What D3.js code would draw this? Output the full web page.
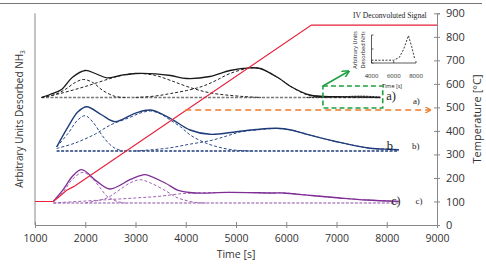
<!DOCTYPE html>
<html lang="en">
<head>
<meta charset="UTF-8">
<title>NH3 TPD deconvolution</title>
<style>
  body { margin: 0; background: #fff; }
  svg { display: block; font-family: "Open Sans", "DejaVu Sans", sans-serif; }
  .serif { font-family: "Liberation Serif", "DejaVu Serif", serif; }
</style>
</head>
<body>
<script src="https://d3js.org/d3.v7.min.js"></script>
<script>
// ---- data: [time s, signal above own baseline] ----
const timeTicks = [1000, 2000, 3000, 4000, 5000, 6000, 7000, 8000, 9000]
const tempTicks = [0, 100, 200, 300, 400, 500, 600, 700, 800, 900]

// temperature programme [time, °C]
const tempProgram = [[1000, 100], [1360, 100], [1450, 115], [1630, 148], [1770, 163], [6500, 850], [9000, 850]]

// sample a) black
const aTotal = [[1130, 0], [1300, 3], [1530, 8], [1740, 20], [2000, 27], [2200, 24], [2430, 19.7], [2700, 22], [3000, 24], [3400, 23.7], [3700, 22], [4020, 19], [4480, 21], [4880, 27], [5280, 29.7], [5480, 29], [5840, 19.7], [6080, 11.3], [6470, 2.5], [7000, 0.8], [7500, 0.6], [7870, 0]]
const aPeak1 = [[1130, 0], [1400, 3], [1600, 8], [1800, 15], [1960, 18], [2150, 15], [2350, 7], [2600, 1], [2800, 0]]
const aPeak2 = [[1130, 0], [1500, 4], [2000, 11], [2500, 19], [2800, 23], [3100, 24], [3400, 22], [3700, 17], [4085, 10], [4500, 4.5], [5140, 1], [5500, 0]]
const aPeak3 = [[3000, 0], [3400, 1.5], [3700, 4], [4020, 7], [4340, 11.3], [4600, 17], [4880, 24], [5280, 29.5], [5480, 29], [5840, 19.7], [6080, 11.3], [6470, 1.8], [7000, 0.2], [7870, 0]]
const aPeak4 = [[6400, 0], [7000, 0.5], [7500, 1.4], [7870, 0.4]]
const aRange = [1130, 7870]

// sample b) navy
const bTotal = [[1430, 4], [1660, 24.3], [1850, 39], [2030, 44.3], [2330, 36], [2590, 29.3], [2990, 37.7], [3300, 41], [3690, 32.7], [4085, 21], [4480, 16.7], [5010, 19.3], [5400, 21.5], [5810, 22.7], [6100, 21], [6340, 17.7], [7000, 9.3], [7670, 2.7], [8060, 1.7], [8240, 1.2]]
const bPeak1 = [[1430, 4], [1660, 17.7], [1850, 31], [2000, 35.3], [2150, 29], [2330, 16], [2480, 7], [2600, 2.5], [2750, 0]]
const bPeak2 = [[1430, 2.5], [1800, 8], [2200, 17], [2500, 26], [2860, 33], [3100, 38], [3300, 40], [3500, 37], [3690, 31], [3900, 24], [4090, 16], [4350, 9], [4620, 4.3], [4950, 1], [5300, 0]]
const bPeak3 = [[3000, 0], [3620, 2.7], [4100, 7], [4500, 10.5], [4815, 15], [5080, 19], [5400, 21], [5800, 22.5], [6100, 21], [6340, 17.7], [6700, 13], [7000, 9.3], [7400, 5], [7670, 2.7], [8060, 1.7], [8240, 1.2]]
const bRange = [1430, 8240]

// sample c) purple
const cTotal = [[1365, 1.6], [1560, 13.3], [1750, 27], [1930, 33.3], [2230, 21.6], [2490, 14], [2890, 23.3], [3090, 27.3], [3190, 28.3], [3590, 20], [3850, 12.6], [4180, 10], [4850, 10.6], [5740, 10], [5940, 10], [6500, 7.5], [7070, 5], [7600, 3], [8240, 1.6]]
const cPeak1 = [[1365, 1], [1560, 11], [1750, 24], [1960, 30.6], [2150, 24], [2300, 15], [2430, 7], [2630, 1.6], [2800, 0]]
const cPeak2 = [[2000, 0], [2200, 2], [2430, 5], [2650, 12], [2890, 20], [3090, 23.3], [3300, 20], [3620, 11.6], [3800, 6], [3950, 3.3], [4200, 0.5], [4400, 0]]
const cPeak3 = [[1365, 0], [2000, 2], [2500, 3.5], [3000, 5], [3450, 6.6], [3920, 9.3], [4200, 10], [4850, 10.6], [5740, 10], [5940, 10], [6500, 7.5], [7070, 5], [7600, 3], [8240, 1.6]]
const cRange = [1365, 8240]

// vertical offsets of each trace on the arbitrary-units axis
const offsets = { a: 127.5, b: 74, c: 22 }

// inset: IV deconvoluted signal
const insetTicks = [4000, 6000, 8000]
const insetSignal = [[4000, 0.1], [6000, 0.1], [6500, 0.2], [6900, 0.5], [7320, 0.98], [7600, 0.6], [7900, 0.12]]

// ---- drawing ----
const width = 486
const height = 266

const x = d3.scaleLinear().domain([1000, 9000]).range([35, 437])
const yT = d3.scaleLinear().domain([0, 900]).range([225, 13.3])
const yA = d3.scaleLinear().domain([0, 211.7]).range([225, 13.3])

const svg = d3.select('body').append('svg')
  .attr('width', width)
  .attr('height', height)

// top frame line
svg.append('line')
  .attr('x1', 0).attr('x2', 482).attr('y1', 3.5).attr('y2', 3.5)
  .attr('stroke', '#777').attr('stroke-width', 1)

const defs = svg.append('defs')
function marker(id, color) {
  defs.append('marker')
    .attr('id', id).attr('viewBox', '0 0 10 10')
    .attr('refX', 8).attr('refY', 5)
    .attr('markerWidth', 5).attr('markerHeight', 5)
    .attr('orient', 'auto')
    .append('path').attr('d', 'M0,0 L10,5 L0,10').attr('fill', 'none')
    .attr('stroke', color).attr('stroke-width', 2)
}
marker('arrOrange', '#f07a2a')
marker('arrGreen', '#1fa040')

// axes
const xAxis = svg.append('g')
  .attr('transform', `translate(0,${yT(0)})`)
  .call(d3.axisBottom(x).tickValues(timeTicks).tickSize(3).tickFormat(d3.format('d')))
xAxis.selectAll('.tick line').attr('y1', -3).attr('y2', 3)
xAxis.selectAll('.tick text').attr('y', 17).attr('dy', 0).attr('font-size', 10.5).attr('fill', '#333')

const rAxis = svg.append('g')
  .attr('transform', `translate(${x(9000)},0)`)
  .call(d3.axisRight(yT).tickValues(tempTicks).tickSize(3))
rAxis.selectAll('.tick line').attr('x1', -3).attr('x2', 3)
rAxis.selectAll('.tick text').attr('x', 9).attr('font-size', 11).attr('fill', '#333')

svg.selectAll('.domain').attr('stroke', '#888')
svg.selectAll('.tick line').attr('stroke', '#888')
svg.selectAll('.tick text').attr('font-family', '"Open Sans", sans-serif')

// left axis: plain line
svg.append('line')
  .attr('x1', x(1000)).attr('x2', x(1000))
  .attr('y1', yA(211.7)).attr('y2', yA(0))
  .attr('stroke', '#888')

svg.append('text')
  .attr('x', 236).attr('y', 258)
  .attr('text-anchor', 'middle').attr('font-size', 10.5).attr('fill', '#333')
  .text('Time [s]')

svg.append('text')
  .attr('transform', 'translate(481,119) rotate(-90)')
  .attr('text-anchor', 'middle').attr('font-size', 11).attr('fill', '#333')
  .text('Temperature [°C]')

const yLab = svg.append('text')
  .attr('transform', 'translate(23,119) rotate(-90)')
  .attr('text-anchor', 'middle').attr('font-size', 10).attr('fill', '#333')
yLab.append('tspan').text('Arbitrary Units  Desorbed NH')
yLab.append('tspan').attr('font-size', 6.5).attr('dy', 2).text('3')

// traces
function trace(data, off, color, dash, w) {
  const line = d3.line()
    .x(d => x(d[0]))
    .y(d => yA(off + d[1]))
    .curve(d3.curveCatmullRom.alpha(0.5))
  svg.append('path')
    .datum(data)
    .attr('d', line)
    .attr('fill', 'none')
    .attr('stroke', color)
    .attr('stroke-width', w)
    .attr('stroke-dasharray', dash)
}
function baseline(range, off, color) {
  trace([[range[0], 0], [range[1], 0]], off, color, '3,1.5', 1.3)
}

// a)
baseline(aRange, offsets.a, '#777')
trace(aPeak1, offsets.a, '#222', '3,2', 1)
trace(aPeak2, offsets.a, '#222', '3,2', 1)
trace(aPeak3, offsets.a, '#222', '3,2', 1)
trace(aPeak4, offsets.a, '#222', '2,1', 1)
trace(aTotal, offsets.a, '#1a1a1a', null, 1.3)

// b)
baseline(bRange, offsets.b, '#1f3c7a')
trace(bPeak1, offsets.b, '#2c4a8a', '3,2', 1)
trace(bPeak2, offsets.b, '#2c4a8a', '3,2', 1)
trace(bPeak3, offsets.b, '#2c4a8a', '3,2', 1)
trace(bTotal, offsets.b, '#1f3c7a', null, 1.4)

// c)
baseline(cRange, offsets.c, '#b48ac4')
trace(cPeak1, offsets.c, '#a062b4', '3,2', 1)
trace(cPeak2, offsets.c, '#a062b4', '3,2', 1)
trace(cPeak3, offsets.c, '#a062b4', '3,2', 1)
trace(cTotal, offsets.c, '#7f2e96', null, 1.3)

// temperature
svg.append('path')
  .datum(tempProgram)
  .attr('d', d3.line().x(d => x(d[0])).y(d => yT(d[1])))
  .attr('fill', 'none')
  .attr('stroke', '#e8203c')
  .attr('stroke-width', 1.2)

// orange arrow
svg.append('line')
  .attr('x1', x(3990)).attr('x2', x(8860))
  .attr('y1', yA(115)).attr('y2', yA(115))
  .attr('stroke', '#f07a2a').attr('stroke-width', 1.3)
  .attr('stroke-dasharray', '6,4')
  .attr('marker-end', 'url(#arrOrange)')

// green zoom box + arrow
svg.append('rect')
  .attr('x', x(6730)).attr('y', yA(139))
  .attr('width', x(7920) - x(6730)).attr('height', yA(117) - yA(139))
  .attr('fill', 'none').attr('stroke', '#1fa040').attr('stroke-width', 1.6)
  .attr('stroke-dasharray', '5,3')
svg.append('line')
  .attr('x1', x(6730)).attr('y1', yA(139))
  .attr('x2', x(7235)).attr('y2', yA(153.5))
  .attr('stroke', '#1fa040').attr('stroke-width', 1.5)
  .attr('marker-end', 'url(#arrGreen)')

// trace labels
const labels = [
  { t: 7990, v: 125.5, s: 'a)', f: 12.5 }, { t: 8520, v: 121, s: 'a)', f: 9 },
  { t: 8000, v: 75, s: 'b', f: 12.5 }, { t: 8500, v: 76, s: 'b)', f: 9 },
  { t: 8090, v: 20, s: 'c)', f: 12 }, { t: 8570, v: 21.5, s: 'c)', f: 9 }
]
svg.selectAll('.lab').data(labels).enter().append('text')
  .attr('class', 'serif')
  .attr('x', d => x(d.t)).attr('y', d => yA(d.v))
  .attr('font-size', d => d.f).attr('fill', '#222')
  .text(d => d.s)

// inset
const ix = d3.scaleLinear().domain([4000, 8000]).range([371.5, 416])
const iy = d3.scaleLinear().domain([0, 1]).range([63, 35])
const inset = svg.append('g')
inset.append('text').attr('class', 'serif')
  .attr('x', 353).attr('y', 18).attr('font-size', 7.6).attr('fill', '#222')
  .text('IV Deconvoluted Signal')
inset.append('path')
  .attr('d', `M${ix(4000)},${iy(1)}V${iy(0)}H${ix(8000)}`)
  .attr('fill', 'none').attr('stroke', '#333').attr('stroke-width', 0.8)
inset.selectAll('.ity').data([0, 0.5, 1]).enter().append('line')
  .attr('x1', ix(4000)).attr('x2', ix(4000) + 2)
  .attr('y1', d => iy(d)).attr('y2', d => iy(d))
  .attr('stroke', '#333').attr('stroke-width', 0.8)
inset.selectAll('.itx').data(insetTicks).enter().append('line')
  .attr('x1', d => ix(d)).attr('x2', d => ix(d))
  .attr('y1', iy(0)).attr('y2', iy(0) - 2)
  .attr('stroke', '#333').attr('stroke-width', 0.8)
inset.selectAll('.itl').data(insetTicks).enter().append('text')
  .attr('x', d => ix(d)).attr('y', 78)
  .attr('text-anchor', 'middle').attr('font-size', 6).attr('fill', '#222')
  .text(d => d)
inset.append('text')
  .attr('x', 392).attr('y', 87.5)
  .attr('text-anchor', 'middle').attr('font-size', 5.5).attr('fill', '#222')
  .text('Time [s]')
inset.append('text')
  .attr('transform', 'translate(357,50) rotate(-90)')
  .attr('text-anchor', 'middle').attr('font-size', 5.5).attr('fill', '#222')
  .text('Arbitrary Units')
const iyl = inset.append('text')
  .attr('transform', 'translate(364.5,50) rotate(-90)')
  .attr('text-anchor', 'middle').attr('font-size', 5.5).attr('fill', '#222')
iyl.append('tspan').text('Desorbed NH')
iyl.append('tspan').attr('font-size', 4).text('3')
inset.append('path')
  .datum(insetSignal)
  .attr('d', d3.line().x(d => ix(d[0])).y(d => iy(d[1])))
  .attr('fill', 'none').attr('stroke', '#222').attr('stroke-width', 0.9)
  .attr('stroke-dasharray', '2,1.5')
</script>
</body>
</html>
